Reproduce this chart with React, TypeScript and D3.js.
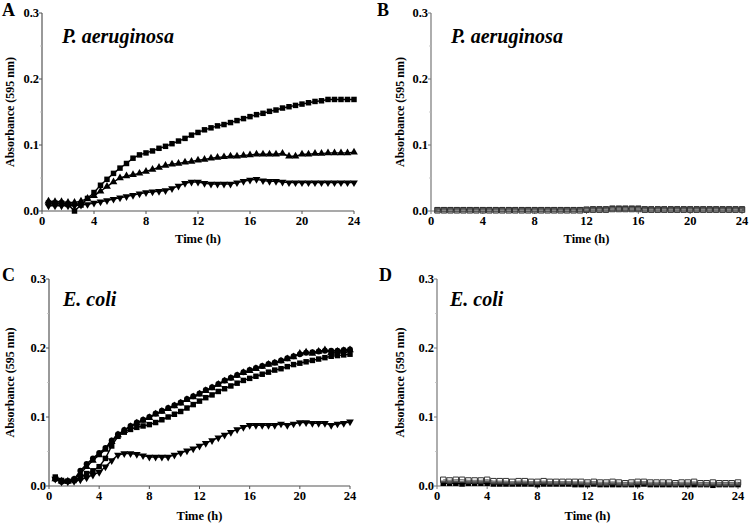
import React from "react";
import * as d3 from "d3";

// ---------- data ----------
const time = [0.5,1,1.5,2,2.5,3,3.5,4,4.5,5,5.5,6,6.5,7,7.5,8,8.5,9,9.5,10,10.5,11,11.5,12,12.5,13,13.5,14,14.5,15,15.5,16,16.5,17,17.5,18,18.5,19,19.5,20,20.5,21,21.5,22,22.5,23,23.5,24];

const xTicks = [0, 4, 8, 12, 16, 20, 24];
const yTicks = [0, 0.1, 0.2, 0.3];
const yMinorTicks = [0.05, 0.15, 0.25];

// Panel A – P. aeruginosa
const aSquare = [0.012,0.012,0.012,0.010,0.000,0.009,0.019,0.028,0.039,0.048,0.057,0.065,0.072,0.080,0.085,0.088,0.091,0.095,0.098,0.102,0.106,0.110,0.115,0.119,0.123,0.126,0.129,0.131,0.134,0.137,0.140,0.143,0.146,0.148,0.151,0.153,0.156,0.158,0.160,0.162,0.164,0.166,0.167,0.169,0.169,0.169,0.169,0.169];
const aUp = [0.015,0.014,0.014,0.013,0.013,0.015,0.019,0.023,0.030,0.037,0.044,0.050,0.053,0.055,0.057,0.060,0.063,0.066,0.069,0.071,0.072,0.074,0.075,0.077,0.078,0.080,0.081,0.082,0.083,0.083,0.084,0.085,0.086,0.086,0.086,0.086,0.087,0.083,0.083,0.086,0.086,0.087,0.087,0.088,0.088,0.088,0.088,0.089];
const aDown = [0.008,0.008,0.008,0.008,0.008,0.009,0.010,0.012,0.014,0.016,0.018,0.020,0.022,0.024,0.026,0.028,0.029,0.030,0.031,0.034,0.038,0.042,0.044,0.044,0.042,0.041,0.041,0.041,0.041,0.043,0.045,0.047,0.048,0.046,0.045,0.045,0.044,0.043,0.043,0.043,0.043,0.043,0.043,0.043,0.043,0.043,0.043,0.043];

// Panel B – P. aeruginosa (treated)
const bSquare = [0.002,0.002,0.002,0.002,0.002,0.002,0.002,0.002,0.002,0.002,0.002,0.002,0.002,0.002,0.002,0.002,0.002,0.002,0.002,0.002,0.002,0.002,0.002,0.002,0.003,0.003,0.003,0.004,0.004,0.004,0.004,0.004,0.003,0.003,0.003,0.003,0.003,0.003,0.003,0.003,0.003,0.003,0.003,0.003,0.003,0.003,0.003,0.003];
const bOpen = [0.001,0.001,0.001,0.001,0.001,0.001,0.001,0.001,0.001,0.001,0.001,0.001,0.001,0.001,0.001,0.001,0.001,0.001,0.001,0.001,0.001,0.001,0.001,0.002,0.002,0.002,0.002,0.003,0.003,0.003,0.003,0.003,0.002,0.002,0.002,0.002,0.002,0.002,0.002,0.002,0.002,0.002,0.002,0.002,0.002,0.002,0.002,0.002];

// Panel C – E. coli
const cCircle = [0.010,0.006,0.007,0.010,0.022,0.032,0.040,0.048,0.055,0.066,0.075,0.081,0.087,0.092,0.096,0.100,0.105,0.109,0.113,0.117,0.121,0.126,0.130,0.134,0.139,0.143,0.148,0.153,0.157,0.161,0.165,0.168,0.171,0.174,0.177,0.179,0.182,0.185,0.188,0.191,0.193,0.194,0.195,0.196,0.196,0.196,0.197,0.198];
const cUp = [0.010,0.007,0.007,0.009,0.018,0.028,0.037,0.045,0.053,0.064,0.074,0.080,0.086,0.091,0.095,0.099,0.104,0.108,0.112,0.116,0.120,0.125,0.129,0.133,0.138,0.142,0.147,0.152,0.156,0.160,0.164,0.167,0.170,0.173,0.176,0.178,0.181,0.184,0.187,0.192,0.194,0.192,0.195,0.197,0.193,0.195,0.196,0.197];
const cSquare = [0.013,0.008,0.007,0.008,0.012,0.018,0.022,0.028,0.040,0.058,0.072,0.078,0.082,0.085,0.087,0.089,0.092,0.096,0.100,0.104,0.108,0.113,0.118,0.123,0.128,0.132,0.137,0.141,0.145,0.149,0.153,0.156,0.159,0.162,0.165,0.168,0.170,0.173,0.176,0.178,0.180,0.182,0.184,0.186,0.188,0.189,0.190,0.191];
const cDown = [0.010,0.006,0.006,0.007,0.009,0.012,0.016,0.020,0.028,0.037,0.045,0.047,0.047,0.046,0.044,0.042,0.042,0.042,0.042,0.045,0.048,0.051,0.054,0.058,0.062,0.066,0.070,0.074,0.078,0.082,0.085,0.088,0.088,0.088,0.088,0.088,0.090,0.088,0.090,0.092,0.092,0.091,0.091,0.091,0.088,0.090,0.091,0.093];

// Panel D – E. coli (treated)
const dOpen = [0.009,0.008,0.009,0.009,0.008,0.008,0.008,0.009,0.007,0.007,0.007,0.006,0.007,0.007,0.006,0.006,0.007,0.006,0.006,0.006,0.006,0.006,0.006,0.005,0.006,0.005,0.005,0.006,0.005,0.004,0.005,0.006,0.006,0.005,0.005,0.005,0.005,0.004,0.005,0.005,0.006,0.004,0.004,0.005,0.004,0.004,0.004,0.005];
const dDark = [0.004,0.004,0.004,0.003,0.004,0.004,0.004,0.004,0.003,0.003,0.003,0.003,0.003,0.003,0.003,0.002,0.003,0.003,0.003,0.003,0.003,0.002,0.002,0.002,0.003,0.002,0.002,0.002,0.002,0.002,0.002,0.002,0.003,0.002,0.002,0.002,0.002,0.002,0.002,0.002,0.002,0.002,0.002,0.001,0.002,0.002,0.002,0.002];

// ---------- drawing ----------
type Marker = "square" | "up" | "down" | "circle" | "openSquare";
type Series = { values: number[]; marker: Marker };

const FONT = "Liberation Serif";

function markerPath(m: Marker): { d: string; rot: number } {
  if (m === "square" || m === "openSquare") return { d: d3.symbol(d3.symbolSquare, 30)(), rot: 0 };
  if (m === "circle") return { d: d3.symbol(d3.symbolCircle, 28)(), rot: 0 };
  if (m === "up") return { d: d3.symbol(d3.symbolTriangle, 26)(), rot: 0 };
  return { d: d3.symbol(d3.symbolTriangle, 26)(), rot: 180 };
}

type PanelProps = {
  letter: string;
  title: string;
  letterX: number;
  letterY: number;
  titleX: number;
  titleY: number;
  x0: number;
  x1: number;
  y0: number;
  y1: number;
  yTitleX: number;
  xTitleOffset: number;
  tickLabelOffset: number;
  series: Series[];
  axisColor: string;
};

function Panel(p: PanelProps) {
  const x = d3.scaleLinear().domain([0, 24]).range([p.x0, p.x1]);
  const y = d3.scaleLinear().domain([0, 0.3]).range([p.y0, p.y1]);
  const line = d3
    .line<number>()
    .x((_, i) => x(time[i]))
    .y((v) => y(v));
  return (
    <g style={{ fontFamily: FONT }}>
      <text x={p.letterX} y={p.letterY} fontWeight="bold" fontSize={18}>
        {p.letter}
      </text>
      <text x={p.titleX} y={p.titleY} fontWeight="bold" fontStyle="italic" fontSize={20}>
        {p.title}
      </text>
      {/* axes */}
      <line x1={p.x0} x2={p.x0} y1={y(0.3)} y2={y(0)} stroke={p.axisColor} strokeWidth={1.2} />
      <line x1={p.x0} x2={p.x1} y1={y(0)} y2={y(0)} stroke={p.axisColor} strokeWidth={1.2} />
      {yTicks.map((t) => (
        <g key={"y" + t}>
          <line x1={p.x0 - 3} x2={p.x0} y1={y(t)} y2={y(t)} stroke={p.axisColor} strokeWidth={1} />
          <text x={p.x0 - 3} y={y(t) + 4} textAnchor="end" fontWeight="bold" fontSize={12.5}>
            {d3.format(".1f")(t)}
          </text>
        </g>
      ))}
      {yMinorTicks.map((t) => (
        <line key={"ym" + t} x1={p.x0 - 2} x2={p.x0} y1={y(t)} y2={y(t)} stroke="#bbb" strokeWidth={0.8} />
      ))}
      {xTicks.map((t) => (
        <g key={"x" + t}>
          <line x1={x(t)} x2={x(t)} y1={y(0)} y2={y(0) + 3} stroke={p.axisColor} strokeWidth={1} />
          <text x={x(t)} y={y(0) + p.tickLabelOffset} textAnchor="middle" fontWeight="bold" fontSize={12.5}>
            {t}
          </text>
        </g>
      ))}
      <text x={(p.x0 + p.x1) / 2} y={y(0) + p.xTitleOffset} textAnchor="middle" fontWeight="bold" fontSize={12.5}>
        Time (h)
      </text>
      <text
        transform={`translate(${p.yTitleX},${(y(0) + y(0.3)) / 2}) rotate(-90)`}
        textAnchor="middle"
        fontWeight="bold"
        fontSize={12}
      >
        Absorbance (595 nm)
      </text>
      {/* series */}
      {p.series.map((s, si) => {
        const mk = markerPath(s.marker);
        const open = s.marker === "openSquare";
        return (
          <g key={si}>
            <path d={line(s.values) || ""} fill="none" stroke={open ? "#444" : "#000"} strokeWidth={1.4} />
            {s.values.map((v, i) => (
              <path
                key={i}
                d={mk.d}
                transform={`translate(${x(time[i])},${y(v)}) rotate(${mk.rot})`}
                fill={open ? "#fff" : "#000"}
                fillOpacity={open ? 0.35 : 1}
                stroke={open ? "#333" : "none"}
                strokeWidth={open ? 1 : 0}
              />
            ))}
          </g>
        );
      })}
    </g>
  );
}

export default function App() {
  return (
    <svg width={750} height={527} style={{ position: "absolute", left: 0, top: 0, background: "#fff" }}>
      <rect width={750} height={527} fill="#fff" />
      <Panel
        letter="A"
        title="P. aeruginosa"
        letterX={2}
        letterY={16}
        titleX={62}
        titleY={43}
        x0={42}
        x1={354}
        y0={211}
        y1={13}
        yTitleX={14}
        xTitleOffset={32}
        tickLabelOffset={14}
        axisColor="#555"
        series={[
          { values: aDown, marker: "down" },
          { values: aUp, marker: "up" },
          { values: aSquare, marker: "square" },
        ]}
      />
      <Panel
        letter="B"
        title="P. aeruginosa"
        letterX={377}
        letterY={16}
        titleX={451}
        titleY={43}
        x0={431}
        x1={742}
        y0={211}
        y1={13}
        yTitleX={404}
        xTitleOffset={32}
        tickLabelOffset={14}
        axisColor="#777"
        series={[
          { values: bSquare, marker: "square" },
          { values: bOpen, marker: "openSquare" },
        ]}
      />
      <Panel
        letter="C"
        title="E. coli"
        letterX={2}
        letterY={281}
        titleX={63}
        titleY={306}
        x0={49}
        x1={350}
        y0={486}
        y1={279}
        yTitleX={14}
        xTitleOffset={34}
        tickLabelOffset={14}
        axisColor="#555"
        series={[
          { values: cDown, marker: "down" },
          { values: cSquare, marker: "square" },
          { values: cUp, marker: "up" },
          { values: cCircle, marker: "circle" },
        ]}
      />
      <Panel
        letter="D"
        title="E. coli"
        letterX={379}
        letterY={281}
        titleX={450}
        titleY={306}
        x0={437}
        x1={738}
        y0={486}
        y1={279}
        yTitleX={404}
        xTitleOffset={34}
        tickLabelOffset={14}
        axisColor="#777"
        series={[
          { values: dDark, marker: "square" },
          { values: dOpen, marker: "openSquare" },
        ]}
      />
    </svg>
  );
}
